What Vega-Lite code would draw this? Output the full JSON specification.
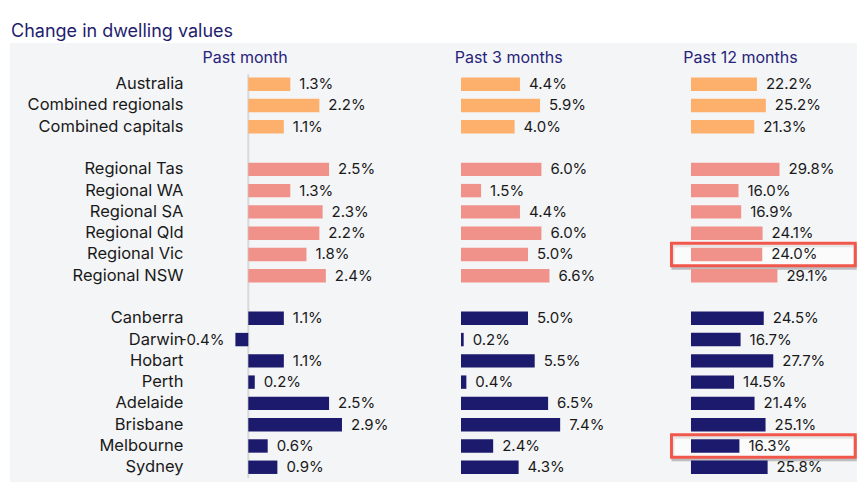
{
  "$schema": "https://vega.github.io/schema/vega-lite/v6.json",
  "width": 847,
  "height": 439,
  "autosize": {"type": "none"},
  "padding": {"left": 10, "top": 43, "right": 3, "bottom": 20},
  "background": "#ffffff",
  "config": {
    "view": {"fill": "#f4f5f7", "stroke": null},
    "font": "Inter",
    "text": {"font": "Inter", "fontSize": 15, "color": "#1a1a1a", "baseline": "middle"}
  },
  "title": {
    "text": "Change in dwelling values",
    "anchor": "start",
    "frame": "group",
    "orient": "top",
    "offset": 6,
    "baseline": "alphabetic",
    "fontSize": 18,
    "fontWeight": "normal",
    "color": "#1f1d6e",
    "font": "Inter",
    "dx": 1,
    "dy": 18
  },
  "datasets": {
    "changes": [
      {"region": "Australia", "group": "National", "period": "Past month", "value": 1.3},
      {"region": "Combined regionals", "group": "National", "period": "Past month", "value": 2.2},
      {"region": "Combined capitals", "group": "National", "period": "Past month", "value": 1.1},
      {"region": "Regional Tas", "group": "Regional", "period": "Past month", "value": 2.5},
      {"region": "Regional WA", "group": "Regional", "period": "Past month", "value": 1.3},
      {"region": "Regional SA", "group": "Regional", "period": "Past month", "value": 2.3},
      {"region": "Regional Qld", "group": "Regional", "period": "Past month", "value": 2.2},
      {"region": "Regional Vic", "group": "Regional", "period": "Past month", "value": 1.8},
      {"region": "Regional NSW", "group": "Regional", "period": "Past month", "value": 2.4},
      {"region": "Canberra", "group": "Capital", "period": "Past month", "value": 1.1},
      {"region": "Darwin", "group": "Capital", "period": "Past month", "value": -0.4},
      {"region": "Hobart", "group": "Capital", "period": "Past month", "value": 1.1},
      {"region": "Perth", "group": "Capital", "period": "Past month", "value": 0.2},
      {"region": "Adelaide", "group": "Capital", "period": "Past month", "value": 2.5},
      {"region": "Brisbane", "group": "Capital", "period": "Past month", "value": 2.9},
      {"region": "Melbourne", "group": "Capital", "period": "Past month", "value": 0.6},
      {"region": "Sydney", "group": "Capital", "period": "Past month", "value": 0.9},
      {"region": "Australia", "group": "National", "period": "Past 3 months", "value": 4.4},
      {"region": "Combined regionals", "group": "National", "period": "Past 3 months", "value": 5.9},
      {"region": "Combined capitals", "group": "National", "period": "Past 3 months", "value": 4.0},
      {"region": "Regional Tas", "group": "Regional", "period": "Past 3 months", "value": 6.0},
      {"region": "Regional WA", "group": "Regional", "period": "Past 3 months", "value": 1.5},
      {"region": "Regional SA", "group": "Regional", "period": "Past 3 months", "value": 4.4},
      {"region": "Regional Qld", "group": "Regional", "period": "Past 3 months", "value": 6.0},
      {"region": "Regional Vic", "group": "Regional", "period": "Past 3 months", "value": 5.0},
      {"region": "Regional NSW", "group": "Regional", "period": "Past 3 months", "value": 6.6},
      {"region": "Canberra", "group": "Capital", "period": "Past 3 months", "value": 5.0},
      {"region": "Darwin", "group": "Capital", "period": "Past 3 months", "value": 0.2},
      {"region": "Hobart", "group": "Capital", "period": "Past 3 months", "value": 5.5},
      {"region": "Perth", "group": "Capital", "period": "Past 3 months", "value": 0.4},
      {"region": "Adelaide", "group": "Capital", "period": "Past 3 months", "value": 6.5},
      {"region": "Brisbane", "group": "Capital", "period": "Past 3 months", "value": 7.4},
      {"region": "Melbourne", "group": "Capital", "period": "Past 3 months", "value": 2.4},
      {"region": "Sydney", "group": "Capital", "period": "Past 3 months", "value": 4.3},
      {"region": "Australia", "group": "National", "period": "Past 12 months", "value": 22.2},
      {"region": "Combined regionals", "group": "National", "period": "Past 12 months", "value": 25.2},
      {"region": "Combined capitals", "group": "National", "period": "Past 12 months", "value": 21.3},
      {"region": "Regional Tas", "group": "Regional", "period": "Past 12 months", "value": 29.8},
      {"region": "Regional WA", "group": "Regional", "period": "Past 12 months", "value": 16.0},
      {"region": "Regional SA", "group": "Regional", "period": "Past 12 months", "value": 16.9},
      {"region": "Regional Qld", "group": "Regional", "period": "Past 12 months", "value": 24.1},
      {"region": "Regional Vic", "group": "Regional", "period": "Past 12 months", "value": 24.0, "highlight": true},
      {"region": "Regional NSW", "group": "Regional", "period": "Past 12 months", "value": 29.1},
      {"region": "Canberra", "group": "Capital", "period": "Past 12 months", "value": 24.5},
      {"region": "Darwin", "group": "Capital", "period": "Past 12 months", "value": 16.7},
      {"region": "Hobart", "group": "Capital", "period": "Past 12 months", "value": 27.7},
      {"region": "Perth", "group": "Capital", "period": "Past 12 months", "value": 14.5},
      {"region": "Adelaide", "group": "Capital", "period": "Past 12 months", "value": 21.4},
      {"region": "Brisbane", "group": "Capital", "period": "Past 12 months", "value": 25.1},
      {"region": "Melbourne", "group": "Capital", "period": "Past 12 months", "value": 16.3, "highlight": true},
      {"region": "Sydney", "group": "Capital", "period": "Past 12 months", "value": 25.8}
    ],
    "headers": [
      {"period": "Past month"},
      {"period": "Past 3 months"},
      {"period": "Past 12 months"}
    ],
    "baseline": [{"zero": 0}]
  },
  "data": {"name": "changes"},
  "encoding": {
    "y": {
      "field": "region",
      "type": "nominal",
      "scale": {
        "domain": ["Australia", "Combined regionals", "Combined capitals", " ", "Regional Tas", "Regional WA", "Regional SA", "Regional Qld", "Regional Vic", "Regional NSW", "  ", "Canberra", "Darwin", "Hobart", "Perth", "Adelaide", "Brisbane", "Melbourne", "Sydney"],
        "paddingInner": 0.37,
        "paddingOuter": 1.0975,
        "align": 0.811,
        "round": false
      },
      "axis": {
        "title": null,
        "ticks": false,
        "tickSize": 0,
        "domain": false,
        "grid": false,
        "labelPadding": 0,
        "offset": -173,
        "labelFont": "Inter",
        "labelFontSize": 16.5,
        "labelColor": "#1a1a1a",
        "labelLimit": 300
      }
    },
    "color": {
      "field": "group",
      "type": "nominal",
      "scale": {"domain": ["National", "Regional", "Capital"], "range": ["#fcb06c", "#f0918a", "#1c1a6c"]},
      "legend": null
    }
  },
  "layer": [
    {
      "layer": [
        {
          "data": {"name": "baseline"},
          "mark": {"type": "rule", "color": "#d9d9d9", "strokeWidth": 2, "yOffset": -10, "y2Offset": 11},
          "encoding": {
            "x": {"field": "zero", "type": "quantitative", "scale": {"domain": [-7.378, 18.845]}, "axis": null},
            "y": {"datum": "Australia", "type": "nominal"},
            "y2": {"datum": "Sydney"},
            "color": {"value": "#d9d9d9"}
          }
        },
        {
          "transform": [{"filter": "datum.period === 'Past month'"}],
          "mark": {"type": "bar"},
          "encoding": {
            "x": {"field": "value", "type": "quantitative", "scale": {"domain": [-7.378, 18.845]}, "axis": null}
          }
        },
        {
          "transform": [{"filter": "datum.period === 'Past month' && datum.value >= 0"}],
          "mark": {"type": "text", "align": "left", "dx": 9, "text": {"expr": "format(datum.value, '.1f') + '%'"}},
          "encoding": {
            "x": {"field": "value", "type": "quantitative", "scale": {"domain": [-7.378, 18.845]}, "axis": null},
            "color": {"value": "#1a1a1a"}
          }
        },
        {
          "transform": [{"filter": "datum.period === 'Past month' && datum.value < 0"}],
          "mark": {"type": "text", "align": "right", "dx": -11, "text": {"expr": "replace(format(datum.value, '.1f'), '\u2212', '-') + '%'"}},
          "encoding": {
            "x": {"field": "value", "type": "quantitative", "scale": {"domain": [-7.378, 18.845]}, "axis": null},
            "color": {"value": "#1a1a1a"}
          }
        },
        {
          "data": {"name": "headers"},
          "transform": [{"filter": "datum.period === 'Past month'"}],
          "mark": {"type": "text", "align": "center", "dy": -26, "fontSize": 16},
          "encoding": {
            "x": {"datum": -0.1, "type": "quantitative", "scale": {"domain": [-7.378, 18.845]}, "axis": null},
            "y": {"datum": "Australia", "type": "nominal"},
            "text": {"field": "period"},
            "color": {"value": "#27237a"}
          }
        }
      ]
    },
    {
      "layer": [
        {
          "transform": [{"filter": "datum.period === 'Past 3 months'"}],
          "mark": {"type": "bar"},
          "encoding": {
            "x": {"field": "value", "type": "quantitative", "scale": {"domain": [-33.657, 29.552]}, "axis": null}
          }
        },
        {
          "transform": [{"filter": "datum.period === 'Past 3 months'"}],
          "mark": {"type": "text", "align": "left", "dx": 9, "text": {"expr": "format(datum.value, '.1f') + '%'"}},
          "encoding": {
            "x": {"field": "value", "type": "quantitative", "scale": {"domain": [-33.657, 29.552]}, "axis": null},
            "color": {"value": "#1a1a1a"}
          }
        },
        {
          "data": {"name": "headers"},
          "transform": [{"filter": "datum.period === 'Past 3 months'"}],
          "mark": {"type": "text", "align": "center", "dy": -26, "fontSize": 16},
          "encoding": {
            "x": {"datum": 3.56, "type": "quantitative", "scale": {"domain": [-33.657, 29.552]}, "axis": null},
            "y": {"datum": "Australia", "type": "nominal"},
            "text": {"field": "period"},
            "color": {"value": "#27237a"}
          }
        }
      ]
    },
    {
      "layer": [
        {
          "transform": [{"filter": "datum.period === 'Past 12 months' && datum.highlight === true"}],
          "mark": {"type": "bar", "height": 22.5, "fill": "#000000", "fillOpacity": 0, "stroke": "#555555", "strokeOpacity": 0.35, "strokeWidth": 3, "xOffset": 1.5, "yOffset": 2.5},
          "encoding": {
            "x": {"datum": -6.57, "type": "quantitative", "scale": {"domain": [-229.29, 55.895]}, "axis": null},
            "x2": {"datum": 55.3},
            "color": {"value": "#555555"}
          }
        },
        {
          "transform": [{"filter": "datum.period === 'Past 12 months' && datum.highlight === true"}],
          "mark": {"type": "bar", "height": 22.5, "fill": "#ffffff", "fillOpacity": 0.6, "stroke": "#f2574b", "strokeWidth": 3},
          "encoding": {
            "x": {"datum": -6.57, "type": "quantitative", "scale": {"domain": [-229.29, 55.895]}, "axis": null},
            "x2": {"datum": 55.3},
            "color": {"value": "#ffffff"}
          }
        },
        {
          "transform": [{"filter": "datum.period === 'Past 12 months'"}],
          "mark": {"type": "bar"},
          "encoding": {
            "x": {"field": "value", "type": "quantitative", "scale": {"domain": [-229.29, 55.895]}, "axis": null}
          }
        },
        {
          "transform": [{"filter": "datum.period === 'Past 12 months'"}],
          "mark": {"type": "text", "align": "left", "dx": 9, "text": {"expr": "format(datum.value, '.1f') + '%'"}},
          "encoding": {
            "x": {"field": "value", "type": "quantitative", "scale": {"domain": [-229.29, 55.895]}, "axis": null},
            "color": {"value": "#1a1a1a"}
          }
        },
        {
          "data": {"name": "headers"},
          "transform": [{"filter": "datum.period === 'Past 12 months'"}],
          "mark": {"type": "text", "align": "center", "dy": -26, "fontSize": 16},
          "encoding": {
            "x": {"datum": 16.67, "type": "quantitative", "scale": {"domain": [-229.29, 55.895]}, "axis": null},
            "y": {"datum": "Australia", "type": "nominal"},
            "text": {"field": "period"},
            "color": {"value": "#27237a"}
          }
        }
      ]
    }
  ],
  "resolve": {"scale": {"x": "independent"}}
}
